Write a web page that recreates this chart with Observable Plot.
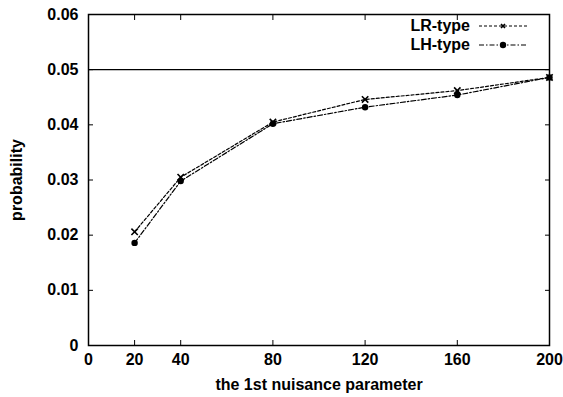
<!DOCTYPE html>
<html>
<head>
<meta charset="utf-8">
<script src="https://cdn.jsdelivr.net/npm/d3@7"></script>
<script src="https://cdn.jsdelivr.net/npm/@observablehq/plot@0.6"></script>
<style>
  html, body { margin: 0; padding: 0; background: #fff; }
  #wrap { position: relative; width: 563px; height: 397px; font-family: "Liberation Sans", Arial, sans-serif; }
  #legend { position: absolute; right: 35px; top: 16px; font-size: 16px; color: #000; }
  .row { display: flex; align-items: center; justify-content: flex-end; height: 19px; }
  .row svg { margin-left: 8px; }
</style>
</head>
<body>
<div id="wrap"></div>
<script>
const params = [20, 40, 80, 120, 160, 200];
const lrType = [0.0206, 0.0305, 0.0405, 0.0446, 0.0462, 0.0486];
const lhType = [0.0186, 0.0298, 0.0402, 0.0432, 0.0454, 0.0486];
const xTicks = [0, 20, 40, 80, 120, 160, 200];
const yTicks = [0, 0.01, 0.02, 0.03, 0.04, 0.05, 0.06];
const refLevel = [0.05];
const seriesNames = ["LR-type", "LH-type"];

const lr = params.map((p, i) => ({x: p, y: lrType[i]}));
const lh = params.map((p, i) => ({x: p, y: lhType[i]}));

const font = "Liberation Sans, Arial, sans-serif";
const yFmt = d => d === 0 ? "0" : d.toFixed(2);

const chart = Plot.plot({
  width: 563,
  height: 397,
  marginLeft: 88,
  marginRight: 14,
  marginTop: 14,
  marginBottom: 52,
  style: {fontFamily: font, fontSize: "16px", color: "#000", background: "#fff"},
  x: {domain: [0, 200]},
  y: {domain: [0, 0.06]},
  marks: [
    Plot.ruleY(refLevel, {stroke: "#000", strokeWidth: 1.1}),
    Plot.axisX({ticks: xTicks, tickSize: -5, tickFormat: () => "", label: null}),
    Plot.axisX({anchor: "top", ticks: xTicks, tickSize: -5, tickFormat: () => "", label: null}),
    Plot.axisY({ticks: yTicks, tickSize: -5, tickFormat: () => "", label: null}),
    Plot.axisY({anchor: "right", ticks: yTicks, tickSize: -5, tickFormat: () => "", label: null}),
    Plot.axisX({ticks: xTicks, tickSize: 0, tickPadding: 8, fontWeight: "bold", fontSize: 16,
      label: "the 1st nuisance parameter", labelAnchor: "center", labelOffset: 44, labelArrow: false}),
    Plot.axisY({ticks: yTicks, tickFormat: yFmt, tickSize: 0, tickPadding: 10, fontWeight: "bold", fontSize: 16,
      label: "probability", labelAnchor: "center", labelOffset: 78, labelArrow: false}),
    Plot.frame({stroke: "#000", strokeWidth: 1.5}),
    Plot.line(lr, {x: "x", y: "y", stroke: "#000", strokeWidth: 1.2, strokeDasharray: "3,2"}),
    Plot.line(lh, {x: "x", y: "y", stroke: "#000", strokeWidth: 1.2, strokeDasharray: "5,2,1.5,2"}),
    Plot.dot(lr, {x: "x", y: "y", symbol: "times", r: 3, stroke: "#000", strokeWidth: 1.6}),
    Plot.dot(lh, {x: "x", y: "y", symbol: "circle", r: 3.2, fill: "#000", stroke: "none"})
  ]
});

const wrap = document.getElementById("wrap");
wrap.appendChild(chart);

const legend = document.createElement("div");
legend.id = "legend";
const styles = [
  {dash: "3,2", marker: "times"},
  {dash: "5,2,1.5,2", marker: "circle"}
];
seriesNames.forEach((name, i) => {
  const row = document.createElement("div");
  row.className = "row";
  const label = document.createElement("span");
  label.textContent = name;
  label.style.fontWeight = "bold";
  label.style.fontSize = "16px";
  row.appendChild(label);
  const ns = "http://www.w3.org/2000/svg";
  const s = document.createElementNS(ns, "svg");
  s.setAttribute("width", "50");
  s.setAttribute("height", "10");
  const ln = document.createElementNS(ns, "line");
  ln.setAttribute("x1", "1"); ln.setAttribute("x2", "49");
  ln.setAttribute("y1", "5"); ln.setAttribute("y2", "5");
  ln.setAttribute("stroke", "#000"); ln.setAttribute("stroke-width", "1.2");
  ln.setAttribute("stroke-dasharray", styles[i].dash);
  s.appendChild(ln);
  if (styles[i].marker === "times") {
    const p = document.createElementNS(ns, "path");
    p.setAttribute("d", "M23,3L27,7M27,3L23,7");
    p.setAttribute("stroke", "#000"); p.setAttribute("stroke-width", "1.6");
    s.appendChild(p);
  } else {
    const c = document.createElementNS(ns, "circle");
    c.setAttribute("cx", "25"); c.setAttribute("cy", "5"); c.setAttribute("r", "3.2");
    c.setAttribute("fill", "#000");
    s.appendChild(c);
  }
  row.appendChild(s);
  legend.appendChild(row);
});
wrap.appendChild(legend);
</script>
</body>
</html>
